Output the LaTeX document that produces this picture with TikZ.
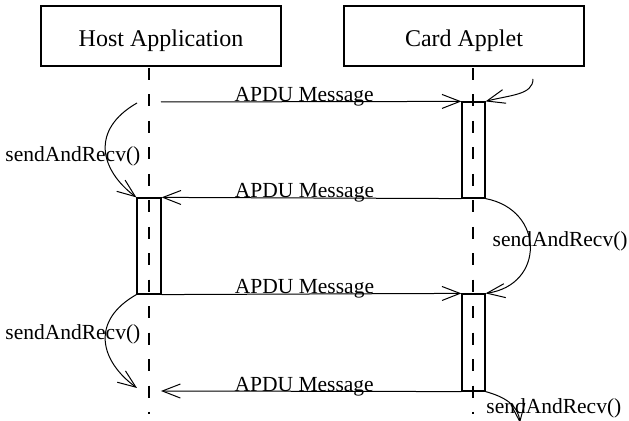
\documentclass[tikz,border=0pt]{standalone}
\usepackage{fontspec}
\setmainfont{Liberation Serif}
\usetikzlibrary{arrows.meta,positioning}

\begin{document}
\begin{tikzpicture}[x=0.5pt,y=-0.5pt,
    obj/.style={draw,line width=0.8pt,minimum width=120pt,minimum height=30pt,inner sep=0pt,text height=11pt,text depth=0pt,font=\fontsize{12}{14}\selectfont},
    act/.style={draw,line width=0.6pt,minimum width=11.5pt,minimum height=48pt,inner sep=0pt},
    life/.style={line width=1.4pt,dash pattern=on 6pt off 7.23pt},
    msg/.style={line width=0.5pt,-{Straight Barb[length=9pt,width=7pt]}},
    lbl/.style={font=\fontsize{10.75}{12}\selectfont,inner sep=0pt}]
  \useasboundingbox (0,0) rectangle (629,421);
  % objects
  \node[obj] (host) at (161,36) {Host Application};
  \node[obj] (card) at (464,36) {Card Applet};
  % lifelines
  \coordinate (hosttop) at (149,68);
  \coordinate (hostbot) at (149,414);
  \coordinate (cardtop) at (473,68);
  \coordinate (cardbot) at (473,414);
  \draw[life] (hosttop) -- (hostbot);
  \draw[life] (cardtop) -- (cardbot);
  % activations
  \node[act,minimum width=12pt] (hostact) at (149,246) {};
  \node[act] (cardacta) at (473.5,150) {};
  \node[act,minimum height=48.5pt] (cardactb) at (473.5,342.5) {};
  % messages
  \coordinate (hsend) at (161,102);
  \coordinate (hrecv) at (161,391);
  \draw[msg] (hsend) -- node[lbl,midway,anchor=base,xshift=-3.5pt] {APDU Message} (cardacta.north west);
  \draw[msg] (cardacta.south west) -- node[lbl,midway,anchor=base,xshift=-3.5pt] {APDU Message} (hostact.north east);
  \draw[msg] (hostact.south east) -- node[lbl,midway,anchor=base,xshift=-3.5pt] {APDU Message} (cardactb.north west);
  \draw[msg] (cardactb.south west) -- node[lbl,midway,anchor=base,xshift=-3.5pt] {APDU Message} (hrecv);
  % calls
  \coordinate (hcalla) at (137,103);
  \coordinate (hcallb) at (137,388);
  \coordinate (ccalla) at (533,79);
  \coordinate (ccallc) at (520,423);
  \draw[msg] (hcalla) .. controls (90,130) and (100,170) .. (hostact.north west);
  \draw[msg] (hostact.south west) .. controls (90,321) and (100,361) .. (hcallb);
  \draw[msg] (ccalla) .. controls (533,95) and (510,95) .. (cardacta.north east);
  \draw[msg] (cardacta.south east) .. controls (545,210) and (545,285) .. (cardactb.north east);
  \draw[msg] (cardactb.south east) .. controls (505,397) and (518,405) .. (ccallc);
  \node[lbl,anchor=west] (calla) at (5,156) {sendAndRecv()};
  \node[lbl,anchor=west] (callb) at (5,334) {sendAndRecv()};
  \node[lbl,anchor=east] (callc) at (628,241) {sendAndRecv()};
  \node[lbl,anchor=west] (calld) at (486,408) {sendAndRecv()};
\end{tikzpicture}
\end{document}
